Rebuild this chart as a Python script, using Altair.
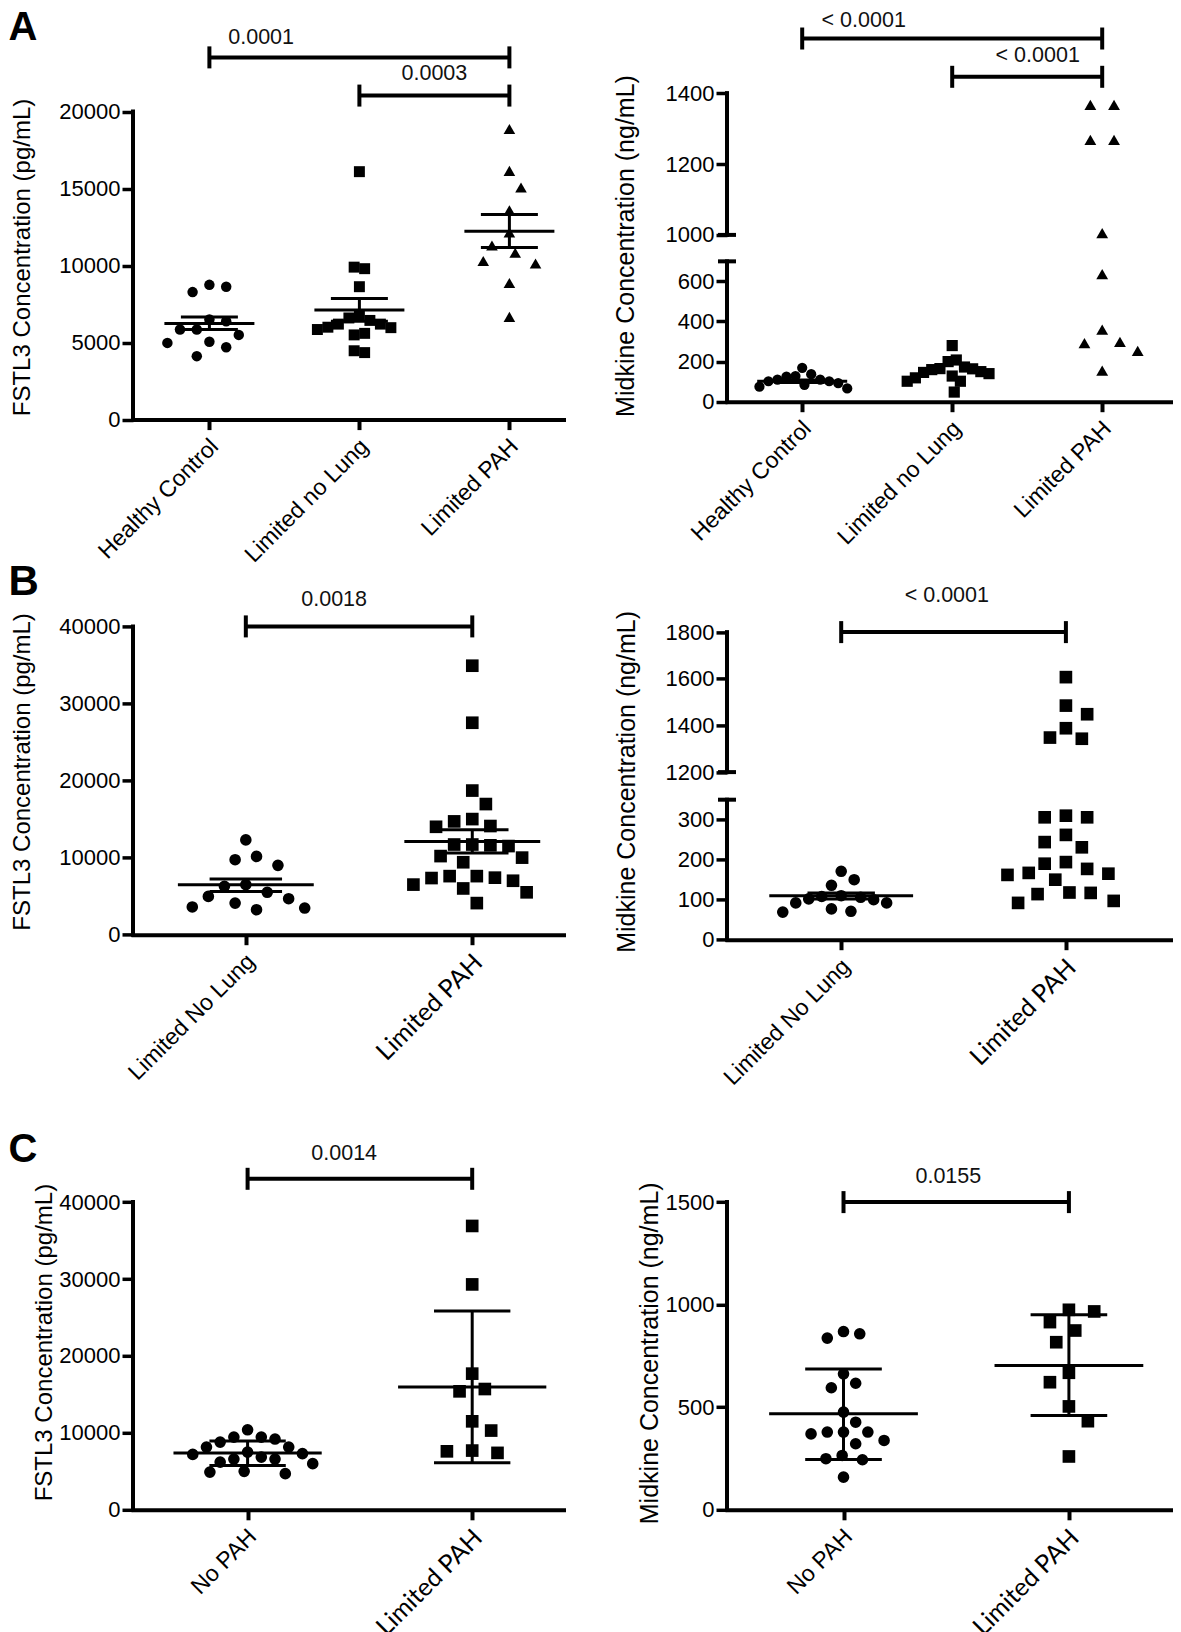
import json
import math
import altair as alt
import pandas as pd

SANS = "Liberation Sans"
ALT_SANS = "Lato"

# ---------------- data ----------------
A_CATS = ["Healthy Control", "Limited no Lung", "Limited PAH"]
B_CATS = ["Limited No Lung", "Limited PAH"]
C_CATS = ["No PAH", "Limited PAH"]

# Panel A, FSTL3 (pg/mL)
A_FSTL3_HEALTHY = [8750, 8280, 8630, 6390, 6500, 5850, 5500, 5850, 4980, 4700, 5050, 4120]
A_FSTL3_NOLUNG = [16100, 9900, 9800, 8630, 6600, 6200, 5600, 5850, 5970, 6200, 6440, 6780, 4350, 4470, 5500, 6000]
A_FSTL3_PAH = [18870, 16150, 15070, 13600, 12150, 11300, 10830, 10140, 10300, 8870, 6670]
A_FSTL3_MEAN = [6241, 7123, 12227]
A_FSTL3_LO = [5846, 6380, 11183]
A_FSTL3_HI = [6659, 7865, 13318]

# Panel A, Midkine (ng/mL)
A_MDK_HEALTHY = [137, 128, 110, 102, 84, 66, 75, 93, 102, 110, 125, 169]
A_MDK_NOLUNG = [280, 200, 208, 128, 164, 160, 173, 165, 146, 102, 102, 119, 48, 140, 150]
A_MDK_PAH = [1367, 1367, 1268, 1268, 1005, 636, 360, 292, 298, 253, 155]
A_MDK_MEAN = [102, None, None]
A_MDK_LO = [96, None, None]
A_MDK_HI = [108, None, None]

# Panel B, FSTL3
B_FSTL3_NOLUNG = [12300, 10160, 9730, 9000, 6500, 6270, 5500, 4670, 4970, 4100, 3600, 3240, 3460]
B_FSTL3_PAH = [34900, 27500, 18700, 16950, 15000, 14100, 14000, 14700, 11700, 11500, 11600, 11700,
               9400, 10000, 10200, 7600, 7400, 7350, 7000, 7600, 6000, 5500, 6500, 4100]
B_FSTL3_MEAN = [6486, 12107]
B_FSTL3_LO = [5621, 10594]
B_FSTL3_HI = [7221, 13621]

# Panel B, Midkine
B_MDK_NOLUNG = [171, 150, 136, 108, 102, 110, 106, 100, 92, 92, 77, 69, 71]
B_MDK_PAH = [1607, 1485, 1448, 1388, 1343, 1348, 306, 306, 310, 262, 244, 231, 190, 194, 177, 167,
             162, 165, 150, 118, 114, 117, 92, 97]
B_MDK_MEAN = [110, None]
B_MDK_LO = [102, None]
B_MDK_HI = [117, None]

# Panel C, FSTL3 (mean +/- SD)
C_FSTL3_NOPAH = [10400, 9450, 9200, 8800, 9450, 8150, 8150, 7200, 7500, 7300, 6850, 6600, 6600,
                 6200, 6000, 5000, 4900, 4700]
C_FSTL3_PAH = [36900, 29300, 17700, 15400, 15700, 11500, 10300, 7700, 7400, 7600]
C_FSTL3_MEAN = [7368, 15949]
C_FSTL3_LO = [5764, 6111]
C_FSTL3_HI = [8928, 25831]

# Panel C, Midkine (mean +/- SD)
C_MDK_NOPAH = [858, 837, 869, 663, 617, 595, 476, 427, 379, 370, 379, 379, 322, 338, 249, 265, 244, 159]
C_MDK_PAH = [975, 967, 915, 874, 817, 668, 622, 504, 432, 260]
C_MDK_MEAN = [468, 704]
C_MDK_LO = [245, 460]
C_MDK_HI = [687, 951]

FSTL3_TITLE = "FSTL3 Concentration (pg/mL)"
MDK_TITLE = "Midkine Concentration (ng/mL)"


# ---------------- helpers ----------------
def axis_map(brk):
    """Piecewise mapping used for the broken y axes."""
    if brk is None:
        return (lambda v: v), (lambda fld: f"datum['{fld}']"), "format(datum.value, 'd')"
    lt, ub, g, r = brk

    def f(v):
        return v if v <= lt else lt + g + (v - ub) * r

    def e(fld):
        return f"datum['{fld}'] <= {lt} ? datum['{fld}'] : {lt + g} + (datum['{fld}'] - {ub}) * {r}"

    lab = (f"datum.value <= {lt + 0.5} ? format(datum.value, 'd') : "
           f"format(round({ub} + (datum.value - {lt + g}) / {r}), 'd')")
    return f, e, lab


def beeswarm(ypx, d, maxw, ax=1.7, by=1.5):
    """Scatter-dot layout: spread points of similar value sideways (pixels)."""
    n = len(ypx)
    order = sorted(range(n), key=lambda i: -ypx[i])
    offs = [None] * n

    def clash(x, y, skip, tol=1.0):
        for j in range(n):
            if j in skip or offs[j] is None:
                continue
            if ((x - offs[j]) / (ax * d)) ** 2 + ((y - ypx[j]) / (by * d)) ** 2 < tol:
                return True
        return False

    stepc = d * 0.5
    for i in order:
        y = ypx[i]
        bal = sum(o for o in offs if o is not None)
        chosen = None
        for m in range(0, 400):
            c = m * stepc
            cands = [c] if m == 0 else ([-c, c] if bal > 0 else [c, -c])
            for cc in cands:
                if not clash(cc, y, {i}):
                    chosen = cc
                    break
            if chosen is not None:
                break
        offs[i] = chosen

    # centre rows of points sharing (almost) the same value
    done = set()
    for i in order:
        if i in done:
            continue
        row = [j for j in range(n) if abs(ypx[j] - ypx[i]) < 0.35 * d]
        done.update(row)
        if len(row) < 2:
            continue
        shift = -sum(offs[j] for j in row) / len(row)
        moved = {j: offs[j] + shift for j in row}
        old = {j: offs[j] for j in row}
        for j in row:
            offs[j] = None
        ok = True
        for j in row:
            if clash(moved[j], ypx[j], set(row), tol=0.9):
                ok = False
                break
        for j in row:
            offs[j] = moved[j] if ok else old[j]

    mx = max(abs(o) for o in offs) if offs else 0
    if mx > maxw:
        offs = [o * maxw / mx for o in offs]
    return offs


def build(p):
    f, e, lab = axis_map(p.get("brk"))
    k = p["height"] / p["tmax"]
    xs = alt.Scale(domain=p["xdom"], nice=False, zero=False)
    ys = alt.Scale(domain=[0, p["tmax"]], nice=False, zero=False)
    cats = p["cats"]
    n = len(cats)

    if p.get("alt_label"):
        lfont = {"condition": {"test": "datum.value == 1", "value": ALT_SANS}, "value": SANS}
        lsize = {"condition": {"test": "datum.value == 1", "value": 25}, "value": 23}
    else:
        lfont = SANS
        lsize = 23

    x_axis = alt.Axis(
        values=list(range(n)), labelExpr=f"{json.dumps(cats)}[datum.value]", title=None,
        grid=False, domain=True, domainColor="black", domainWidth=4, domainCap="square",
        ticks=True, tickColor="black", tickWidth=4, tickSize=10,
        labelAngle=-45, labelAlign="right", labelBaseline="top", labelPadding=5, labelOffset=-3,
        labelFont=lfont, labelFontSize=lsize, labelColor="black",
        labelOverlap=False, labelFlush=False,
    )
    y_axis = alt.Axis(
        values=[f(v) for v in p["yticks"]], labelExpr=lab, title=p["title"],
        titleX=p["title_x"], titleY=p["title_y"], titleAngle=270, titleAlign="center",
        titleBaseline="middle", titleFont=SANS, titleFontSize=p["title_size"],
        titleFontWeight="normal", titleColor="black",
        domain=False, grid=False, ticks=True, tickColor="black", tickWidth=3.5, tickSize=11,
        labelFont=SANS, labelFontSize=22, labelColor="black", labelPadding=2,
        labelOverlap=False, labelFlush=False,
    )

    def X(fld):
        return alt.X(fld, type="quantitative", scale=xs, axis=x_axis)

    def Y(fld):
        return alt.Y(fld, type="quantitative", scale=ys, axis=y_axis)

    layers = []
    # scatter points, one layer per group
    for gi, (cat, vals) in enumerate(zip(cats, p["groups"])):
        size = p["sizes"][gi]
        shape = p["shapes"][gi]
        d = math.sqrt(size) * (1.128 if shape == "circle" else 1.0)
        offs = beeswarm([f(v) * k for v in vals], d, p["spread"] * p["step"])
        df = pd.DataFrame({"v": vals, "xpos": [gi + o / p["step"] for o in offs]})
        layers.append(
            alt.Chart(df).mark_point(filled=True, color="black", opacity=1, shape=shape, size=size,
                                     strokeWidth=0)
            .transform_calculate(t=e("v")).encode(x=X("xpos"), y=Y("t"))
        )

    # mean and error bars
    hrows, vrows = [], []
    for gi in range(n):
        m, lo, hi = p["mean"][gi], p["lo"][gi], p["hi"][gi]
        if m is None:
            continue
        hrows.append({"x1": gi - p["hw"], "x2": gi + p["hw"], "v": m})
        hrows.append({"x1": gi - p["whw"], "x2": gi + p["whw"], "v": lo})
        hrows.append({"x1": gi - p["whw"], "x2": gi + p["whw"], "v": hi})
        vrows.append({"x": gi, "lo": lo, "hi": hi})
    layers.append(
        alt.Chart(pd.DataFrame(hrows)).mark_rule(color="black", strokeWidth=3, opacity=1)
        .transform_calculate(t=e("v")).encode(x=X("x1"), x2="x2:Q", y=Y("t"))
    )
    layers.append(
        alt.Chart(pd.DataFrame(vrows)).mark_rule(color="black", strokeWidth=3, opacity=1)
        .transform_calculate(t1=e("lo"), t2=e("hi")).encode(x=X("x"), y=Y("t1"), y2="t2:Q")
    )

    # significance brackets
    br = pd.DataFrame([{"x1": b[0], "x2": b[1], "v": b[2]} for b in p["brackets"]])
    be = pd.DataFrame([{"x": b[i], "v": b[2]} for b in p["brackets"] for i in (0, 1)])
    bl = pd.DataFrame([{"x": b[4], "v": b[5], "label": b[3]} for b in p["brackets"]])
    layers.append(
        alt.Chart(br).mark_rule(color="black", strokeWidth=4, opacity=1)
        .transform_calculate(t=e("v")).encode(x=X("x1"), x2="x2:Q", y=Y("t"))
    )
    layers.append(
        alt.Chart(be).mark_tick(color="black", orient="vertical", size=22, thickness=4, opacity=1)
        .transform_calculate(t=e("v")).encode(x=X("x"), y=Y("t"))
    )
    layers.append(
        alt.Chart(bl).mark_text(font=SANS, fontSize=21.5, color="#111111", baseline="middle", align="center")
        .transform_calculate(t=e("v")).encode(x=X("x"), y=Y("t"), text="label:N")
    )

    # y axis line (possibly broken)
    seg = pd.DataFrame([{"x": p["xdom"][0], "a": s[0], "b": s[1]} for s in p["segments"]])
    layers.append(
        alt.Chart(seg).mark_rule(color="black", strokeWidth=4, strokeCap="square", opacity=1)
        .transform_calculate(t1=e("a"), t2=e("b")).encode(x=X("x"), y=Y("t1"), y2="t2:Q")
    )

    if p.get("caps"):
        caps = pd.DataFrame([{"x": p["xdom"][0], "v": c} for c in p["caps"]])
        layers.append(
            alt.Chart(caps).mark_tick(color="black", orient="horizontal", size=18, thickness=4, opacity=1)
            .transform_calculate(t=e("v")).encode(x=X("x"), y=Y("t"))
        )

    if p.get("letter"):
        txt, ly, lsz = p["letter"]
        layers.append(
            alt.Chart(pd.DataFrame({"k": [0]})).mark_text(
                text=txt, font=SANS, fontSize=lsz, fontWeight="bold", color="black",
                align="left", baseline="alphabetic"
            ).encode(x=alt.value(-124.5), y=alt.value(ly))
        )

    return alt.layer(*layers).properties(width=p["width"], height=p["height"])


# ---------------- panels ----------------
panels = [
    dict(cats=A_CATS, groups=[A_FSTL3_HEALTHY, A_FSTL3_NOLUNG, A_FSTL3_PAH],
         shapes=["circle", "square", "triangle-up"], sizes=[110, 120, 135], spread=0.28,
         mean=A_FSTL3_MEAN, lo=A_FSTL3_LO, hi=A_FSTL3_HI, hw=0.30, whw=0.19,
         width=430.5, height=410.6, step=150, xdom=[-0.5093, 2.3607], tmax=26662,
         yticks=[0, 5000, 10000, 15000, 20000], segments=[(0, 20000)],
         brackets=[(0, 2, 23520, "0.0001", 0.345, 24750), (1, 2, 21040, "0.0003", 1.5, 22430)],
         title=FSTL3_TITLE, title_x=-111, title_y=248, title_size=24, letter=("A", 31, 40)),
    dict(cats=A_CATS, groups=[A_MDK_HEALTHY, A_MDK_NOLUNG, A_MDK_PAH],
         shapes=["circle", "square", "triangle-up"], sizes=[105, 125, 140], spread=0.3,
         mean=A_MDK_MEAN, lo=A_MDK_LO, hi=A_MDK_HI, hw=0.30, whw=0.15,
         width=446, height=392.7, step=150, xdom=[-0.5013, 2.472], tmax=1958.6,
         brk=(700, 1000, 131.9, 1.768),
         yticks=[0, 200, 400, 600, 1000, 1200, 1400], segments=[(0, 700), (1000, 1400)], caps=[700, 1000],
         brackets=[(0, 2, 1554, "< 0.0001", 0.41, 1604.5), (1, 2, 1446, "< 0.0001", 1.57, 1503.5)],
         title=MDK_TITLE, title_x=-102, title_y=236.5, title_size=25),
    dict(cats=B_CATS, groups=[B_FSTL3_NOLUNG, B_FSTL3_PAH],
         shapes=["circle", "square"], sizes=[135, 160], alt_label=True, spread=0.26,
         mean=B_FSTL3_MEAN, lo=B_FSTL3_LO, hi=B_FSTL3_HI, hw=0.30, whw=0.16,
         width=430.5, height=373.3, step=226.4, xdom=[-0.4982, 1.4028], tmax=48434,
         yticks=[0, 10000, 20000, 30000, 40000], segments=[(0, 40000)],
         brackets=[(0, 1, 40000, "0.0018", 0.39, 43464)],
         title=FSTL3_TITLE, title_x=-110.5, title_y=210, title_size=24, letter=("B", 34, 42)),
    dict(cats=B_CATS, groups=[B_MDK_NOLUNG, B_MDK_PAH],
         shapes=["circle", "square"], sizes=[135, 160], alt_label=True, spread=0.26,
         mean=B_MDK_MEAN, lo=B_MDK_LO, hi=B_MDK_HI, hw=0.32, whw=0.15,
         width=446, height=378.3, step=224.7, xdom=[-0.5082, 1.4766], tmax=945.75,
         brk=(350, 1200, 69, 0.5833),
         yticks=[0, 100, 200, 300, 1200, 1400, 1600, 1800], segments=[(0, 350), (1200, 1800)], caps=[350, 1200],
         brackets=[(0, 1, 1800, "< 0.0001", 0.47, 1953)],
         title=MDK_TITLE, title_x=-101, title_y=220, title_size=25),
    dict(cats=C_CATS, groups=[C_FSTL3_NOPAH, C_FSTL3_PAH],
         shapes=["circle", "square"], sizes=[135, 160], alt_label=True, spread=0.29,
         mean=C_FSTL3_MEAN, lo=C_FSTL3_LO, hi=C_FSTL3_HI, hw=0.33, whw=0.17,
         width=430.5, height=428, step=224.6, xdom=[-0.5102, 1.4065], tmax=55639,
         yticks=[0, 10000, 20000, 30000, 40000], segments=[(0, 40000)],
         brackets=[(0, 1, 43029, "0.0014", 0.43, 46279)],
         title=FSTL3_TITLE, title_x=-88.9, title_y=260.3, title_size=24, letter=("C", 80.3, 40)),
    dict(cats=C_CATS, groups=[C_MDK_NOPAH, C_MDK_PAH],
         shapes=["circle", "square"], sizes=[135, 160], alt_label=True, spread=0.18,
         mean=C_MDK_MEAN, lo=C_MDK_LO, hi=C_MDK_HI, hw=0.33, whw=0.17,
         width=446, height=428, step=225.4, xdom=[-0.5169, 1.4618], tmax=2086.5,
         yticks=[0, 500, 1000, 1500], segments=[(0, 1500)],
         brackets=[(0, 1, 1500, "0.0155", 0.465, 1622)],
         title=MDK_TITLE, title_x=-78, title_y=271, title_size=25),
]

chart = alt.concat(
    *[build(p) for p in panels], columns=2, spacing={"row": 141.4, "column": 163}, bounds="flush"
).properties(padding=0).configure_view(stroke=None)

chart.save("out.html", embed_options={"renderer": "svg", "actions": False})
